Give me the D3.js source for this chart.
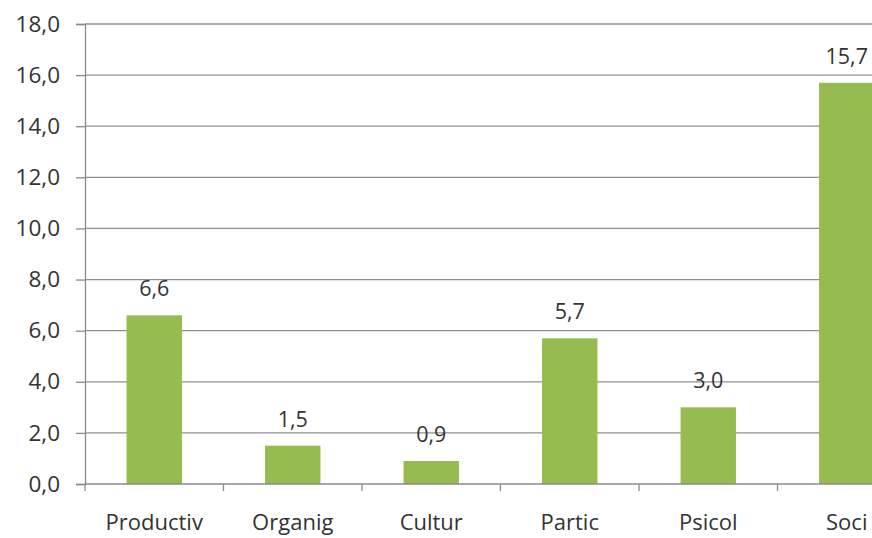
<!DOCTYPE html>
<html><head><meta charset="utf-8">
<script src="https://cdn.jsdelivr.net/npm/d3@7"></script>
<style>body{margin:0;background:#fff}svg{display:block}text{font-family:"Open Sans",sans-serif;fill:#333}</style>
</head><body>
<svg id="c" width="872" height="538"></svg>
<script>
const categories = ["Productiv","Organig","Cultur","Partic","Psicol","Soci"];
const values = [6.6, 1.5, 0.9, 5.7, 3.0, 15.7];
const yTicks = [0,2,4,6,8,10,12,14,16,18];

const svg = d3.select("#c");
const x0 = 85, yTop = 24, yBot = 484;
const x = d3.scaleBand().domain(categories).range([x0, x0 + 138.5*6]).paddingInner(0.6).paddingOuter(0.3);
const y = d3.scaleLinear().domain([0,18]).range([yBot, yTop]);
const fmt = v => d3.format(".1f")(v).replace(".", ",");

// gridlines
svg.append("g").selectAll("line").data(yTicks.filter(t=>t>0)).join("line")
  .attr("x1", x0).attr("x2", 872).attr("y1", d=>y(d)).attr("y2", d=>y(d))
  .attr("stroke", "#8f8f8f").attr("stroke-width", 1.3);

// y axis
const ya = svg.append("g").attr("transform", `translate(${x0},0)`)
  .call(d3.axisLeft(y).tickValues(yTicks).tickFormat(fmt).tickSize(9).tickPadding(16));
ya.select(".domain").attr("stroke", "#8a8a8a").attr("stroke-width", 1.3);
ya.selectAll(".tick line").attr("stroke", "#8a8a8a").attr("stroke-width", 1.3);
ya.selectAll(".tick text").style("font-size", "22.5px").attr("fill", "#333").attr("font-family", "Open Sans");

// bars
svg.append("g").selectAll("rect").data(values).join("rect")
  .attr("x", (d,i)=>x(categories[i])).attr("width", x.bandwidth())
  .attr("y", d=>y(d)).attr("height", d=>yBot - y(d))
  .attr("fill", "#96bb4f");

// x axis
const step = x.step();
const bounds = d3.range(0, 7).map(i => x0 + i*step);
svg.append("line").attr("x1", x0).attr("x2", 872).attr("y1", yBot).attr("y2", yBot)
  .attr("stroke", "#8a8a8a").attr("stroke-width", 1.3);
svg.append("g").selectAll("line").data(bounds).join("line")
  .attr("x1", d=>d).attr("x2", d=>d).attr("y1", yBot).attr("y2", yBot+7)
  .attr("stroke", "#8a8a8a").attr("stroke-width", 1.3);
svg.append("g").selectAll("text").data(categories).join("text")
  .attr("x", d=>x(d)+x.bandwidth()/2).attr("y", 530)
  .attr("text-anchor", "middle").style("font-size", "22px").text(d=>d);

// value labels
svg.append("g").selectAll("text").data(values).join("text")
  .attr("x", (d,i)=>x(categories[i])+x.bandwidth()/2).attr("y", d=>y(d)-19)
  .attr("text-anchor", "middle").style("font-size", "21.5px").text(d=>fmt(d));
</script>
</body></html>
